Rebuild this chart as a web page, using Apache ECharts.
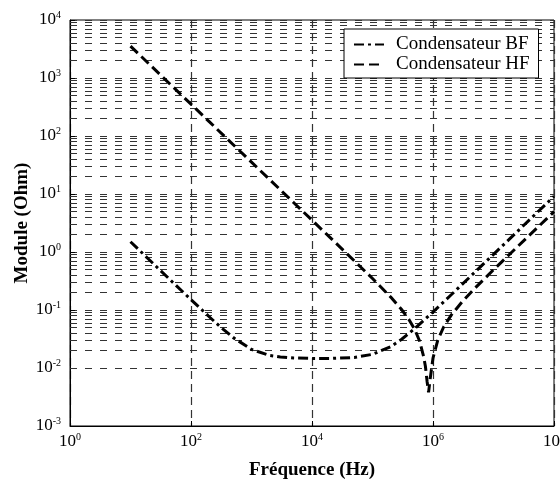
<!DOCTYPE html>
<html><head><meta charset="utf-8">
<script src="https://cdn.jsdelivr.net/npm/echarts@6/dist/echarts.min.js"></script>
<style>html,body{margin:0;padding:0;background:#fff}#c{width:560px;height:480px}</style>
</head><body><div id="c"></div>
<script>
// Condensateur BF (dash-dot)
const freqBF = [10, 20, 30, 50, 100, 200, 300, 500, 1e3, 2e3, 3e3, 5e3, 1e4, 2e4, 5e4, 1e5, 2e5, 3e5, 5e5, 1e6, 2e6, 5e6, 1e7, 2e7, 5e7, 1e8];
const zBF = [1.5, 0.751, 0.5, 0.3, 0.151, 0.0765, 0.0521, 0.0334, 0.0209, 0.0164, 0.0155, 0.0149, 0.0146, 0.0146, 0.0152, 0.0172, 0.0233, 0.031, 0.0479, 0.0923, 0.183, 0.456, 0.911, 1.82, 4.56, 9.11];
// Condensateur HF (dashed)
const freqHF = [10, 20, 50, 100, 200, 500, 1e3, 2e3, 5e3, 1e4, 2e4, 5e4, 1e5, 2e5, 3e5, 4e5, 5e5, 6e5, 7e5, 7.5e5, 8e5, 8.45e5, 9e5, 1e6, 1.2e6, 1.5e6, 2e6, 3e6, 5e6, 1e7, 2e7, 5e7, 1e8];
const zHF = [3540, 1770, 707, 354, 177, 70.7, 35.4, 17.7, 7.07, 3.54, 1.77, 0.705, 0.349, 0.167, 0.103, 0.0686, 0.0459, 0.0292, 0.0158, 0.0106, 0.0058, 0.0038, 0.0066, 0.0148, 0.0303, 0.0509, 0.0816, 0.137, 0.241, 0.493, 0.991, 2.48, 4.96];
const seriesNames = ['Condensateur BF', 'Condensateur HF'];
// axis ranges / grid
const xRange = [1, 1e8];
const yRange = [1e-3, 1e4];
const yDecadeExps = [-3, -2, -1, 0, 1, 2, 3];
const minorMultipliers = [2, 3, 4, 5, 6, 7, 8, 9];

const FONT = 'Liberation Serif';
const minorVals = [];
yDecadeExps.forEach(e => minorMultipliers.forEach(m => minorVals.push(m * Math.pow(10, e))));

const pow10Label = v => {
  const e = Math.round(Math.log10(v));
  return '{b|10}{s|' + e + '}';
};
const labelRich = {
  b: {fontFamily: FONT, fontSize: 17, color: '#000', lineHeight: 20},
  s: {fontFamily: FONT, fontSize: 10, color: '#000', verticalAlign: 'top', lineHeight: 20}
};
const gridDash = {color: '#333', width: 1.2, type: [7, 8]};

const chart = echarts.init(document.getElementById('c'));
chart.setOption({
  animation: false,
  backgroundColor: '#fff',
  grid: {left: 70, right: 6, top: 20, bottom: 54, outerBoundsMode: 'none', containLabel: false,
         show: true, borderColor: '#000', borderWidth: 1, backgroundColor: 'transparent'},
  legend: {
    data: seriesNames,
    orient: 'vertical',
    left: 344, top: 29,
    padding: [6, 9, 4, 9],
    itemWidth: 30, itemHeight: 14, itemGap: 1,
    borderColor: '#000', borderWidth: 1, backgroundColor: '#fff',
    itemStyle: {opacity: 0, borderWidth: 0},
    textStyle: {fontFamily: FONT, fontSize: 19, color: '#000', lineHeight: 19, padding: [0, 0, 0, 7]},
    selectedMode: false
  },
  xAxis: {
    type: 'log', logBase: 100, min: xRange[0], max: xRange[1],
    name: 'Fréquence (Hz)', nameLocation: 'middle', nameGap: 35, nameMoveOverlap: false,
    nameTextStyle: {fontFamily: FONT, fontSize: 19, fontWeight: 'bold', color: '#000'},
    axisLine: {lineStyle: {color: '#000', width: 1}},
    axisTick: {inside: true, length: 5, lineStyle: {color: '#000'}},
    axisLabel: {formatter: pow10Label, rich: labelRich, margin: 6},
    splitLine: {show: true, lineStyle: {color: '#333', width: 1.2, type: [8, 5]}}
  },
  yAxis: {
    type: 'log', logBase: 10, min: yRange[0], max: yRange[1],
    name: 'Module (Ohm)', nameLocation: 'middle', nameGap: 38, nameMoveOverlap: false,
    nameTextStyle: {fontFamily: FONT, fontSize: 19, fontWeight: 'bold', color: '#000'},
    axisLine: {lineStyle: {color: '#000', width: 1}},
    axisTick: {inside: true, length: 5, lineStyle: {color: '#000'}},
    axisLabel: {formatter: pow10Label, rich: labelRich, margin: 9},
    splitLine: {show: true, lineStyle: gridDash}
  },
  series: [
    {
      name: 'minor-grid', type: 'line', data: [], silent: true, z: 1,
      markLine: {
        silent: true, symbol: ['none', 'none'], z: 1, animation: false,
        label: {show: false}, emphasis: {disabled: true},
        lineStyle: gridDash,
        data: minorVals.map(v => ({yAxis: v}))
      }
    },
    {
      name: seriesNames[0], type: 'line', z: 10, symbol: 'none', showSymbol: false,
      lineStyle: {color: '#000', width: 3, type: [10, 4, 3, 4]},
      itemStyle: {color: '#000'},
      data: freqBF.map((f, i) => [f, zBF[i]])
    },
    {
      name: seriesNames[1], type: 'line', z: 10, symbol: 'none', showSymbol: false,
      lineStyle: {color: '#000', width: 3, type: [10, 5]},
      itemStyle: {color: '#000'},
      data: freqHF.map((f, i) => [f, zHF[i]])
    }
  ]
});
</script></body></html>
